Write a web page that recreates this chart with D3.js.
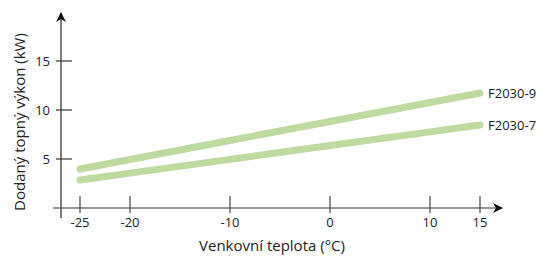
<!DOCTYPE html>
<html>
<head>
  <meta charset="utf-8">
  <title>Dodaný topný výkon</title>
  <style>
    body { margin: 0; background: #fff; }
    text { font-family: "Open Sans", sans-serif; fill: #222; }
  </style>
</head>
<body>
  <svg id="svg"></svg>
  <script src="https://d3js.org/d3.v7.min.js"></script>
  <script>
    // data
    const temps = [-25, -20, -10, 0, 10, 15];
    const f2030_9 = [3.98, 4.95, 6.89, 8.83, 10.77, 11.73];
    const f2030_7 = [2.86, 3.56, 4.96, 6.37, 7.77, 8.47];
    const seriesNames = ["F2030-9", "F2030-7"];
    const xTicks = [-25, -20, -10, 0, 10, 15];
    const yTicks = [5, 10, 15];

    let width = 536, height = 259;
    let svg = d3.select("#svg").attr("width", width).attr("height", height);

    let xScale = d3.scaleLinear().domain([0, 15]).range([330, 480]);
    let yScale = d3.scaleLinear().domain([0, 15]).range([208, 61]);

    svg.append("defs").append("marker")
      .attr("id", "arrow")
      .attr("viewBox", "0 0 10 10")
      .attr("refX", 9).attr("refY", 5)
      .attr("markerWidth", 10).attr("markerHeight", 10)
      .attr("markerUnits", "userSpaceOnUse")
      .attr("orient", "auto")
      .append("path")
      .attr("d", "M0,0 L10,5 L0,10 L3,5 Z")
      .attr("fill", "#111");

    // axis lines
    svg.append("line")
      .attr("x1", 53).attr("x2", 502)
      .attr("y1", yScale(0)).attr("y2", yScale(0))
      .attr("stroke", "#333").attr("stroke-width", 1.2)
      .attr("marker-end", "url(#arrow)");

    svg.append("line")
      .attr("x1", 61).attr("x2", 61)
      .attr("y1", 218).attr("y2", 13)
      .attr("stroke", "#555").attr("stroke-width", 1.5)
      .attr("marker-end", "url(#arrow)");

    // x ticks
    let xt = svg.append("g").selectAll("g").data(xTicks).join("g")
      .attr("transform", d => `translate(${xScale(d)},0)`);
    xt.append("line")
      .attr("y1", 196).attr("y2", 213)
      .attr("stroke", "#555").attr("stroke-width", 1.3);
    xt.append("text")
      .attr("y", 227)
      .attr("text-anchor", "middle")
      .attr("font-size", 13)
      .text(d => d);

    // y ticks
    let yt = svg.append("g").selectAll("g").data(yTicks).join("g")
      .attr("transform", d => `translate(0,${yScale(d)})`);
    yt.append("line")
      .attr("x1", 56).attr("x2", 72)
      .attr("stroke", "#333").attr("stroke-width", 1.2);
    yt.append("text")
      .attr("x", 50).attr("dy", "0.35em")
      .attr("text-anchor", "end")
      .attr("font-size", 13)
      .text(d => d);

    // series
    let line = d3.line()
      .x((d, i) => xScale(temps[i]))
      .y(d => yScale(d));

    [f2030_9, f2030_7].forEach((vals, k) => {
      svg.append("path")
        .attr("d", line(vals))
        .attr("fill", "none")
        .attr("stroke", "#bddb9e")
        .attr("stroke-width", 7)
        .attr("stroke-linecap", "round")
        .attr("stroke-linejoin", "round");
      svg.append("text")
        .attr("x", xScale(temps[temps.length - 1]) + 8)
        .attr("y", yScale(vals[vals.length - 1]))
        .attr("dy", "0.35em")
        .attr("font-size", 13)
        .text(seriesNames[k]);
    });

    // axis titles
    svg.append("text")
      .attr("x", 272).attr("y", 251)
      .attr("text-anchor", "middle")
      .attr("font-size", 15)
      .text("Venkovní teplota (°C)");

    svg.append("text")
      .attr("transform", "translate(25,122) rotate(-90)")
      .attr("text-anchor", "middle")
      .attr("font-size", 15)
      .text("Dodaný topný výkon (kW)");
  </script>
</body>
</html>
